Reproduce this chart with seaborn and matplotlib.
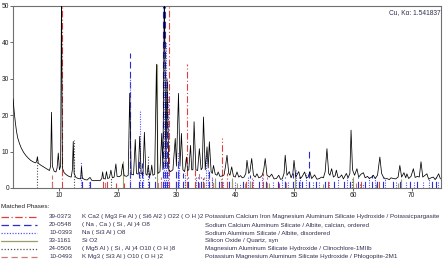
import numpy as np
import pandas as pd
import matplotlib
matplotlib.use("Agg")
import matplotlib.pyplot as plt
from matplotlib.lines import Line2D
import seaborn as sns

two_theta = [2.2, 2.4, 2.6, 2.8, 3.0, 3.3, 3.6, 4.0, 4.4, 4.8, 5.2, 5.6, 6.0, 6.2, 6.35, 6.5, 6.9, 7.3, 7.7, 8.1,
             8.4, 8.6, 8.75, 8.9, 9.2, 9.5, 9.7, 9.9, 10.1, 10.3, 10.45, 10.6, 10.9, 11.3, 11.7, 12.1, 12.3, 12.45, 12.6, 12.9,
             13.3, 13.7, 13.85, 14.0, 14.4, 14.8, 15.3, 15.6, 16.0, 16.5, 17.0, 17.3, 17.45, 17.6, 17.9, 18.1, 18.3, 18.6, 18.85, 19.1,
             19.4, 19.7, 19.9, 20.3, 20.6, 20.85, 21.1, 21.5, 21.8, 22.05, 22.3, 22.7, 23.0, 23.2, 23.5, 23.75, 24.0, 24.3, 24.55, 24.8,
             25.0, 25.2, 25.4, 25.6, 25.8, 26.0, 26.3, 26.6, 26.85, 27.2, 27.5, 27.7, 27.95, 28.2, 28.4, 28.7, 29.0, 29.4, 29.8, 30.0,
             30.35, 30.6, 30.85, 31.1, 31.4, 31.7, 31.9, 32.1, 32.4, 32.6, 32.8, 33.0, 33.3, 33.6, 33.9, 34.2, 34.4, 34.6, 34.9, 35.2,
             35.4, 35.6, 35.9, 36.1, 36.3, 36.6, 36.9, 37.1, 37.4, 37.8, 38.1, 38.35, 38.6, 38.9, 39.1, 39.4, 39.7, 40.0, 40.3, 40.6,
             40.9, 41.2, 41.5, 41.8, 42.0, 42.3, 42.5, 42.8, 43.1, 43.4, 43.7, 44.0, 44.3, 44.6, 44.85, 45.1, 45.4, 45.8, 46.2, 46.6,
             47.0, 47.4, 47.7, 48.0, 48.3, 48.5, 48.8, 49.2, 49.5, 49.8, 50.0, 50.3, 50.8, 51.1, 51.4, 51.8, 52.1, 52.4, 52.7, 53.0,
             53.5, 53.9, 54.3, 54.7, 55.0, 55.3, 55.6, 55.9, 56.1, 56.4, 56.7, 57.0, 57.2, 57.5, 57.8, 58.1, 58.4, 58.9, 59.2, 59.5,
             59.7, 59.95, 60.3, 60.7, 61.0, 61.4, 61.8, 62.1, 62.5, 62.8, 63.2, 63.5, 63.8, 64.2, 64.6, 64.9, 65.2, 65.5, 65.8, 66.2,
             66.5, 66.9, 67.3, 67.7, 68.0, 68.3, 68.7, 69.0, 69.2, 69.5, 69.9, 70.3, 70.6, 71.0, 71.3, 71.6, 71.9, 72.2, 72.6, 72.9,
             73.3, 73.7, 74.0, 74.3, 74.6, 74.9]
counts = [24.5, 21.0, 18.0, 15.5, 13.8, 12.2, 11.0, 9.8, 8.9, 8.2, 7.6, 7.2, 6.9, 7.2, 8.6, 6.8, 6.3, 5.9, 5.5, 5.1,
          4.8, 6.0, 20.8, 6.0, 4.6, 4.4, 5.5, 9.6, 5.0, 6.0, 55.0, 5.5, 4.2, 3.6, 3.2, 3.0, 5.0, 12.8, 4.0, 2.9,
          2.6, 2.5, 5.9, 2.7, 2.3, 2.2, 2.9, 2.1, 2.0, 2.1, 2.0, 2.6, 4.4, 2.6, 2.5, 4.5, 2.6, 2.8, 4.9, 2.8,
          3.0, 6.6, 3.2, 3.1, 3.5, 6.6, 3.4, 3.2, 3.5, 26.0, 3.8, 3.6, 13.3, 4.0, 3.8, 14.2, 4.0, 3.6, 15.3, 3.8,
          3.5, 6.3, 3.5, 3.6, 6.3, 3.5, 3.8, 34.0, 4.0, 4.5, 15.0, 5.0, 55.0, 6.0, 30.0, 5.0, 4.5, 5.0, 13.6, 6.0,
          26.0, 6.0, 15.0, 5.0, 4.5, 8.5, 4.8, 5.0, 11.7, 5.0, 5.0, 18.2, 5.0, 4.8, 10.8, 5.0, 5.5, 19.5, 5.0, 11.3,
          5.5, 12.7, 4.5, 4.0, 6.2, 3.8, 3.5, 4.4, 3.2, 3.3, 3.6, 6.0, 9.0, 4.0, 3.5, 5.8, 3.2, 3.0, 4.4, 3.0,
          3.4, 2.8, 3.0, 4.0, 7.6, 4.0, 4.5, 8.1, 3.5, 3.0, 3.9, 2.8, 3.0, 3.5, 5.0, 8.1, 3.5, 3.0, 3.8, 2.5,
          2.6, 3.5, 2.4, 2.5, 4.0, 9.0, 3.5, 4.5, 2.8, 4.0, 7.6, 3.0, 4.5, 2.6, 3.2, 4.4, 2.8, 3.0, 4.5, 2.6,
          3.6, 2.4, 2.6, 3.0, 2.8, 4.5, 10.8, 4.0, 3.5, 5.3, 3.0, 3.4, 4.9, 2.8, 3.0, 3.6, 2.5, 4.0, 2.8, 4.0,
          15.9, 5.0, 3.5, 5.3, 3.0, 3.8, 4.2, 2.8, 3.2, 2.6, 3.0, 3.5, 2.6, 3.5, 8.5, 4.0, 3.0, 2.5, 2.6, 2.3,
          2.8, 2.6, 2.5, 3.0, 6.2, 3.0, 4.2, 2.8, 3.9, 2.6, 3.2, 5.3, 2.9, 3.2, 3.0, 7.2, 3.0, 3.4, 3.9, 2.4,
          2.8, 3.0, 2.3, 3.0, 3.9, 2.5]

# ---- matched phases: reference stick positions and heights ----
pos_39_0373 = [8.85, 10.5, 17.5, 18.2, 19.8, 21.0, 27.35, 28.65, 29.9, 31.85, 33.15, 34.6, 35.5, 37.8, 38.6, 39.4,
               41.8, 42.8, 44.8, 47.5, 48.4, 50.2, 52.6, 55.8, 59.5, 61.4, 64.5]
hgt_39_0373 = [2.6, 55, 2.5, 2.0, 1.5, 1.5, 3, 55, 2.5, 34, 5, 3, 3.5, 13.7, 4, 2,
               2, 3, 4, 1.5, 2, 2.5, 1.5, 2, 1.5, 2, 2]
pos_20_0548 = [13.9, 15.3, 22.05, 23.6, 24.2, 25.4, 26.4, 27.75, 28.05, 28.4, 29.9, 30.2, 31.2, 32.0, 33.6, 34.1,
               35.5, 36.6, 37.2, 39.0, 41.3, 42.5, 44.1, 45.3, 47.3, 48.5, 49.8, 50.8, 51.4, 52.6, 53.8, 55.2,
               56.8, 58.5, 59.6, 60.8, 62.0, 63.2, 64.1, 65.1, 66.9, 68.1, 69.8, 71.0, 73.4, 74.2]
hgt_20_0548 = [3, 2, 37, 8, 7, 4, 3, 55, 55, 30, 5, 8, 4, 3, 3, 3,
               5, 2.5, 2, 2, 2, 3.5, 2, 2, 2, 3, 4, 3, 2.5, 10.4, 2, 2,
               2.5, 2, 2, 3, 2.5, 3.5, 2, 3, 2, 2.5, 2, 2.5, 2, 3]
pos_10_0393 = [13.85, 15.2, 22.1, 23.8, 24.3, 27.9, 28.2, 28.6, 30.3, 30.5, 31.5, 33.4, 35.0, 35.3, 36.0, 38.0,
               40.0, 40.8, 42.1, 43.0, 44.5, 46.5, 48.0, 49.0, 50.3, 51.1, 52.0, 53.2, 54.2, 56.0, 57.5, 59.0,
               61.8, 62.8, 63.8, 65.5, 67.3, 69.0, 70.4, 72.0, 73.0, 74.5]
hgt_10_0393 = [7.2, 2, 30, 21.5, 5, 55, 40, 25, 10, 6, 4, 3, 9, 5, 3, 2,
               2, 1.5, 3, 2.5, 3, 2, 2.5, 2, 5, 3, 4, 2, 2, 2, 2.5, 3,
               1.5, 3, 3, 2.5, 2, 2, 2, 2, 2.5, 2]
pos_33_1161 = [20.86, 26.64, 36.54, 39.47, 40.29, 42.45, 45.79, 50.14, 54.87, 59.96, 64.0, 67.74, 68.14]
hgt_33_1161 = [7.5, 34, 2.8, 2.8, 1.4, 2, 1.4, 4.5, 1, 3, 1, 1.5, 2.5]
pos_24_0506 = [6.3, 12.5, 18.8, 25.1, 31.5, 34.5, 36.0, 37.6, 45.3, 59.8, 61.3]
hgt_24_0506 = [8.6, 13.2, 3, 9, 2, 3, 2.5, 2.5, 2, 2.5, 1.5]
pos_10_0493 = [8.85, 17.8, 26.8, 27.3, 33.8, 34.7, 36.3, 37.5, 41.6, 45.4, 48.6, 60.5]
hgt_10_0493 = [3.5, 2.5, 2.5, 3, 4.5, 3, 2.5, 2, 1.5, 3, 2, 1.5]

codes = ["39-0373", "20-0548", "10-0393", "33-1161", "24-0506", "10-0493"]
formulas = ["K Ca2 ( Mg3 Fe Al ) ( Si6 Al2 ) O22 ( O H )2",
            "( Na , Ca ) ( Si , Al )4 O8",
            "Na ( Si3 Al ) O8",
            "Si O2",
            "( Mg5 Al ) ( Si , Al )4 O10 ( O H )8",
            "K Mg3 ( Si3 Al ) O10 ( O H )2"]
names = ["Potassium Calcium Iron Magnesium Aluminum Silicate Hydroxide / Potassicpargasite",
         "Sodium Calcium Aluminum Silicate / Albite, calcian, ordered",
         "Sodium Aluminum Silicate / Albite, disordered",
         "Silicon Oxide / Quartz, syn",
         "Magnesium Aluminum Silicate Hydroxide / Clinochlore-1MIIb",
         "Potassium Magnesium Aluminum Silicate Hydroxide / Phlogopite-2M1"]

phase_pos = [pos_39_0373, pos_20_0548, pos_10_0393, pos_33_1161, pos_24_0506, pos_10_0493]
phase_hgt = [hgt_39_0373, hgt_20_0548, hgt_10_0393, hgt_33_1161, hgt_24_0506, hgt_10_0493]
colors = ["#e0403c", "#2c2cd0", "#5656ff", "#9c9c6c", "#505050", "#c87a7a"]
styles = [(0, (6, 2, 1, 2)), (0, (6, 3)), (0, (1, 1.2)), "-", (0, (1, 1.5)), (0, (5, 3))]

sns.set_theme(style="white")
plt.rcParams["font.family"] = ["Liberation Sans", "DejaVu Sans"]

fig = plt.figure(figsize=(4.44, 2.66), dpi=100)
ax = fig.add_axes([13 / 444, 78 / 266, 428 / 444, 182 / 266])

df = pd.DataFrame({"two_theta": two_theta, "counts": counts})

for p, h, c, s in zip(phase_pos, phase_hgt, colors, styles):
    ax.vlines(p, 0, h, colors=c, linestyles=[s], linewidth=0.8, zorder=2)

sns.lineplot(data=df, x="two_theta", y="counts", color="black", linewidth=0.55,
             ax=ax, zorder=3, sort=False)

ax.set_xlim(2.2, 75.0)
ax.set_ylim(0, 50)
ax.set_xticks([10, 20, 30, 40, 50, 60, 70])
ax.set_yticks([0, 10, 20, 30, 40, 50])
ax.set_xlabel("")
ax.set_ylabel("")
for sp in ax.spines.values():
    sp.set_color("#707070")
    sp.set_linewidth(0.8)
ax.tick_params(axis="both", which="major", length=2.0, width=0.6, color="#505050",
               labelsize=4.8, labelcolor="#202020", pad=0.8, direction="out")
ax.tick_params(left=True, bottom=True)

ax.text(0.998, 0.985, "Cu, K\u03b1: 1.541837", transform=ax.transAxes, ha="right", va="top",
        fontsize=4.8, color="#303050")

# legend block (figure pixel coordinates)
def fy(py):
    return 1 - py / 266

def fx(px):
    return px / 444

FS = 4.5
fig.text(fx(1), fy(207), "Matched Phases:", fontsize=FS, color="#202020", va="center", ha="left")
row_y = [216.5, 224.5, 232.5, 240.5, 248.5, 256.5]
for i in range(6):
    y = fy(row_y[i])
    fig.add_artist(Line2D([fx(1), fx(37)], [y, y], color=colors[i], linestyle=styles[i], linewidth=0.9))
    fig.text(fx(49), y, codes[i], fontsize=FS, color="#303050", va="center", ha="left")
    fig.text(fx(82), y, formulas[i], fontsize=FS, color="#303050", va="center", ha="left")
    fig.text(fx(205), y, names[i], fontsize=FS, color="#303050", va="center", ha="left")

fig.savefig("out.png", dpi=100, facecolor="white")
